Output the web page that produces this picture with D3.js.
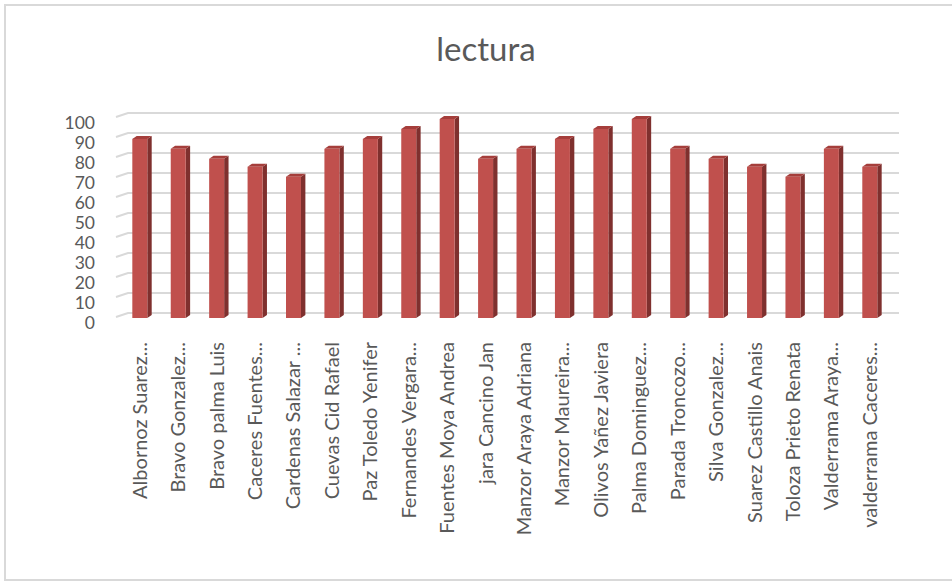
<!DOCTYPE html>
<html>
<head>
<meta charset="utf-8">
<script src="https://cdn.jsdelivr.net/npm/d3@7"></script>
<style>
  html, body { margin: 0; padding: 0; background: #fff; }
  svg { display: block; }
</style>
</head>
<body>
<svg id="chart" width="952" height="582"></svg>
<script>
const categories = [
  "Albornoz Suarez...", "Bravo Gonzalez...", "Bravo palma Luis", "Caceres Fuentes...",
  "Cardenas Salazar ...", "Cuevas Cid Rafael", "Paz Toledo Yenifer", "Fernandes Vergara...",
  "Fuentes Moya Andrea", "jara Cancino Jan", "Manzor Araya Adriana", "Manzor Maureira...",
  "Olivos Yañez Javiera", "Palma Dominguez...", "Parada Troncozo...", "Silva Gonzalez...",
  "Suarez Castillo Anais", "Toloza Prieto Renata", "Valderrama Araya...", "valderrama Caceres..."
];
const lectura = [90, 85, 80, 76, 71, 85, 90, 95, 100, 80, 85, 90, 95, 100, 85, 80, 76, 71, 85, 76];
const yTicks = [0, 10, 20, 30, 40, 50, 60, 70, 80, 90, 100];
const title = "lectura";

const svg = d3.select("#chart");
const textColor = "#595959";
const gridColor = "#d9d9d9";
const font = "Lato, 'Open Sans', sans-serif";

// chart frame
svg.append("rect")
  .attr("x", 5).attr("y", 5).attr("width", 960).attr("height", 575)
  .attr("fill", "#fff").attr("stroke", gridColor).attr("stroke-width", 2);

// title
svg.append("text")
  .attr("x", 486).attr("y", 61)
  .attr("text-anchor", "middle")
  .attr("font-family", font).attr("font-size", 33)
  .attr("fill", textColor)
  .text(title);

// scales
const wallLeft = 128, wallRight = 899, depthDx = -12, depthDy = 4;
const yBack = d3.scaleLinear().domain([0, 100]).range([313, 113]);
const yBar = d3.scaleLinear().domain([0, 100]).range([318, 119]);
const x = d3.scaleBand().domain(categories).range([120.6, 889])
  .paddingInner(0.61).paddingOuter(0.305);

// gridlines (back wall + side-floor diagonals)
const grid = svg.append("g");
grid.selectAll("path.grid").data(yTicks).join("path")
  .attr("class", "grid")
  .attr("d", v => `M${wallLeft + depthDx},${yBack(v) + depthDy}L${wallLeft},${yBack(v)}L${wallRight},${yBack(v)}`)
  .attr("fill", "none").attr("stroke", gridColor).attr("stroke-width", 2);

// y axis labels
svg.append("g").selectAll("text").data(yTicks).join("text")
  .attr("x", 95).attr("y", v => yBack(v) + 9)
  .attr("text-anchor", "end")
  .attr("dominant-baseline", "central")
  .attr("font-family", font).attr("font-size", 17.5)
  .attr("fill", textColor)
  .text(d => d);

// 3D bars
const bw = x.bandwidth(), dx = 4.4, dy = 3;
const data = categories.map((c, i) => ({ c, v: lectura[i] }));
const bars = svg.append("g").selectAll("g").data(data).join("g");
// side face
bars.append("path")
  .attr("d", d => {
    const x0 = x(d.c) + bw, yt = yBar(d.v), yb = yBar(0);
    return `M${x0},${yt}L${x0 + dx},${yt - dy}L${x0 + dx},${yb - dy}L${x0},${yb}Z`;
  })
  .attr("fill", "#7f302e");
// top face
bars.append("path")
  .attr("d", d => {
    const x0 = x(d.c), yt = yBar(d.v);
    return `M${x0},${yt}L${x0 + dx},${yt - dy}L${x0 + bw + dx},${yt - dy}L${x0 + bw},${yt}Z`;
  })
  .attr("fill", "#a53e3b");
// front face
bars.append("rect")
  .attr("x", d => x(d.c)).attr("y", d => yBar(d.v))
  .attr("width", bw).attr("height", d => yBar(0) - yBar(d.v))
  .attr("fill", "#c0504d");

// category labels
svg.append("g").selectAll("text").data(categories).join("text")
  .attr("transform", d => `translate(${x(d) + bw / 2 - 1},342) rotate(-90)`)
  .attr("text-anchor", "end")
  .attr("dominant-baseline", "central")
  .attr("font-family", font).attr("font-size", 20)
  .attr("fill", textColor)
  .text(d => d);
</script>
</body>
</html>
